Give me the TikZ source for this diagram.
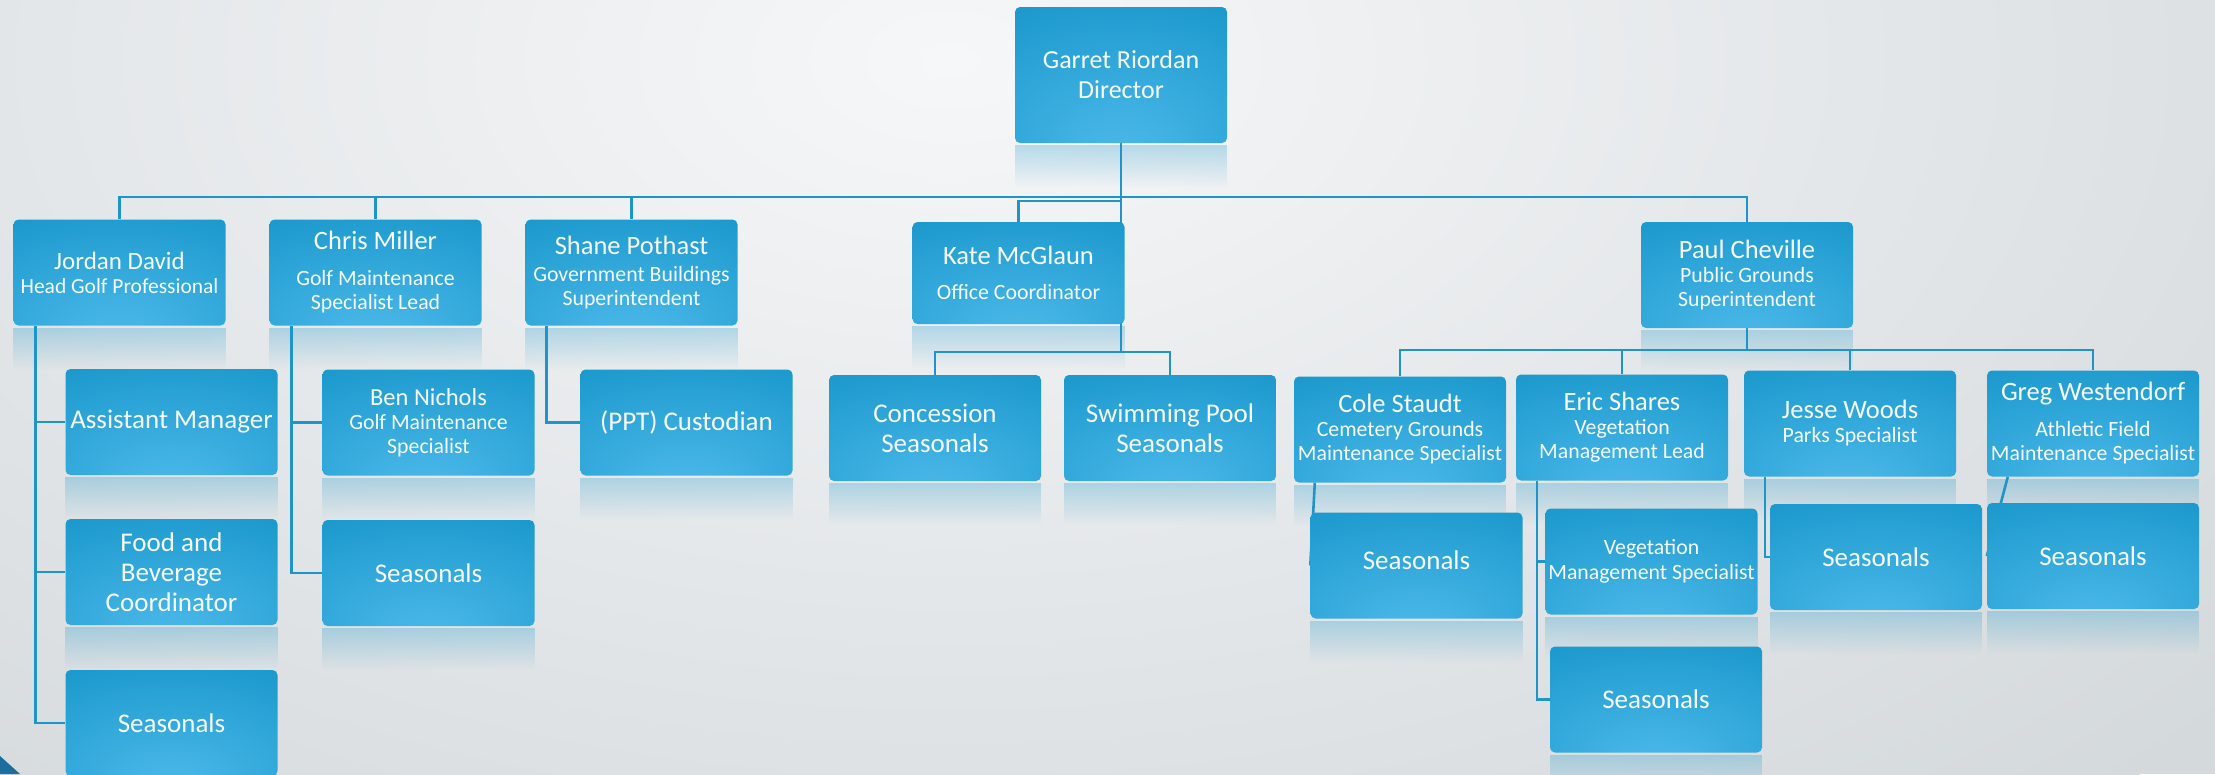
\documentclass[tikz,border=0pt]{standalone}
\usepackage{fontspec}
\setmainfont{Carlito}
\usetikzlibrary{fadings}

\definecolor{boxdark}{RGB}{25,151,203}
\definecolor{boxlight}{RGB}{70,181,230}
\definecolor{linkc}{RGB}{30,148,200}
\definecolor{txt}{RGB}{246,250,253}
\definecolor{bgout}{RGB}{212,217,220}
\definecolor{bgin}{RGB}{246,247,248}
\definecolor{corner}{RGB}{28,108,158}

% light spot sits low in each box, darker towards the edges
\pgfdeclareradialshading{boxshade}{\pgfpoint{0bp}{-30bp}}{%
  color(0bp)=(boxlight); color(6bp)=(boxlight);
  color(50bp)=(boxdark); color(100bp)=(boxdark)}

\pgfdeclarelayer{bg}
\pgfdeclarelayer{refl}
\pgfdeclarelayer{links}
\pgfsetlayers{bg,refl,links,main}

\newcommand\nm[1]{{\fontsize{26.5}{24}\selectfont #1}}

\tikzset{
  orgbox/.style={shade, shading=boxshade, rounded corners=5pt,
    minimum width=212pt, minimum height=106pt, inner sep=0pt,
    text=txt, align=center, font=\fontsize{27}{30}\selectfont},
  person/.style={orgbox, font=\fontsize{21.8}{24}\selectfont},
  link/.style={draw=linkc, line width=2.6pt},
  refl/.style={fill=boxdark, fill opacity=0.28, path fading=south},
}

\begin{document}
\begin{tikzpicture}[x=1pt, y=-1pt]
\useasboundingbox (0,0) rectangle (2215,774);

% background
\begin{pgfonlayer}{bg}
  \fill[bgout] (0,0) rectangle (2215,774);
  \shade[inner color=bgin, outer color=bgout] (950,60) ellipse [x radius=1700pt, y radius=1000pt];
\end{pgfonlayer}

% top
\node[orgbox, minimum height=136pt, font=\fontsize{26}{30}\selectfont] (garret) at (1121,75) {Garret Riordan\\Director};

% first level
\node[person, font=\fontsize{21.5}{24}\selectfont] (jordan) at (119.5,272.5) {{\fontsize{25}{24}\selectfont Jordan David}\\Head Golf Professional};
\node[person] (chris) at (375.5,272.5) {\nm{Chris Miller}\\[12pt]Golf Maintenance\\Specialist Lead};
\node[person] (shane) at (631.5,272.5) {\nm{Shane Pothast}\\[3pt]Government Buildings\\Superintendent};
\node[person, minimum height=102pt] (kate) at (1018.5,273) {\nm{Kate McGlaun}\\[11pt]Office Coordinator};
\node[person] (paul) at (1747,275) {\nm{Paul Cheville}\\Public Grounds\\Superintendent};

% golf
\node[orgbox] (asst) at (171.5,422) {Assistant Manager};
\node[orgbox] (food) at (171.5,572) {Food and\\Beverage\\Coordinator};
\node[orgbox] (jseas) at (171.5,723) {Seasonals};
\node[person] (ben) at (428.5,422.5) {{\fontsize{24.5}{24}\selectfont Ben Nichols}\\Golf Maintenance\\Specialist};
\node[orgbox] (cseas) at (428.5,573) {Seasonals};

% buildings
\node[orgbox] (cust) at (686.5,422.5) {(PPT) Custodian};

% office
\node[orgbox] (conc) at (935,428) {Concession\\Seasonals};
\node[orgbox] (swim) at (1170,428) {Swimming Pool\\Seasonals};

% public grounds
\node[person] (cole) at (1400,429.5) {\nm{Cole Staudt}\\Cemetery Grounds\\Maintenance Specialist};
\node[person] (eric) at (1622,427.5) {\nm{Eric Shares}\\Vegetation\\Management Lead};
\node[person] (jesse) at (1850,423.5) {\nm{Jesse Woods}\\Parks Specialist};
\node[person] (greg) at (2093,423.5) {\nm{Greg Westendorf}\\[12pt]Athletic Field\\Maintenance Specialist};

\node[orgbox] (coleseas) at (1416.5,565.5) {\raisebox{10pt}{Seasonals}};
\node[person, font=\fontsize{21.8}{25}\selectfont] (vegspec) at (1651.5,561.5) {Vegetation\\Management Specialist};
\node[orgbox] (ericseas) at (1656,699.5) {Seasonals};
\node[orgbox] (jesseseas) at (1876,557) {Seasonals};
\node[orgbox] (gregseas) at (2093,556) {Seasonals};

% reflections under the boxes
\begin{pgfonlayer}{refl}
  \foreach \n in {garret,jordan,chris,shane,kate,paul,asst,food,jseas,ben,cseas,cust,
                  conc,swim,cole,eric,jesse,greg,coleseas,vegspec,ericseas,jesseseas,gregseas}
    \fill[refl] ([yshift=-2pt]\n.south west) rectangle ([yshift=-44pt]\n.south east);
\end{pgfonlayer}

% connectors
\coordinate (bus) at (0,197);
\coordinate (kbus) at (0,201);
\coordinate (sbus) at (0,352);
\coordinate (pbus) at (0,350);

\begin{pgfonlayer}{links}
  \draw[link] (jordan.north) -- (jordan.north |- bus) -- (paul.north |- bus) -- (paul.north);
  \draw[link] (chris.north) -- (chris.north |- bus);
  \draw[link] (shane.north) -- (shane.north |- bus);
  \draw[link] (garret.south) -- (garret.south |- sbus);
  \draw[link] (kate.north) -- (kate.north |- kbus) -- (garret.south |- kbus);
  \draw[link] (conc.north) -- (conc.north |- sbus) -- (swim.north |- sbus) -- (swim.north);

  \coordinate (jd) at ([xshift=22pt]jordan.south west);
  \draw[link] (jd) |- (jseas.west);
  \draw[link] (jd |- asst.west) -- (asst.west);
  \draw[link] (jd |- food.west) -- (food.west);

  \coordinate (cd) at ([xshift=22pt]chris.south west);
  \draw[link] (cd) |- (cseas.west);
  \draw[link] (cd |- ben.west) -- (ben.west);

  \coordinate (sd) at ([xshift=21pt]shane.south west);
  \draw[link] (sd) |- (cust.west);

  \draw[link] (paul.south) -- (paul.south |- pbus);
  \draw[link] (cole.north) -- (cole.north |- pbus) -- (greg.north |- pbus) -- (greg.north);
  \draw[link] (eric.north) -- (eric.north |- pbus);
  \draw[link] (jesse.north) -- (jesse.north |- pbus);

  \draw[link] ([xshift=21pt]cole.south west) -- (coleseas.west);
  \coordinate (ed) at ([xshift=21pt]eric.south west);
  \draw[link] (ed) |- (ericseas.west);
  \draw[link] (ed |- vegspec.west) -- (vegspec.west);
  \coordinate (jsd) at ([xshift=21pt]jesse.south west);
  \draw[link] (jsd) |- (jesseseas.west);
  \draw[link] ([xshift=21pt]greg.south west) -- (gregseas.west);
\end{pgfonlayer}

% corner accent
\fill[corner] (0,756) -- (20,774) -- (0,774) -- cycle;
\end{tikzpicture}
\end{document}
